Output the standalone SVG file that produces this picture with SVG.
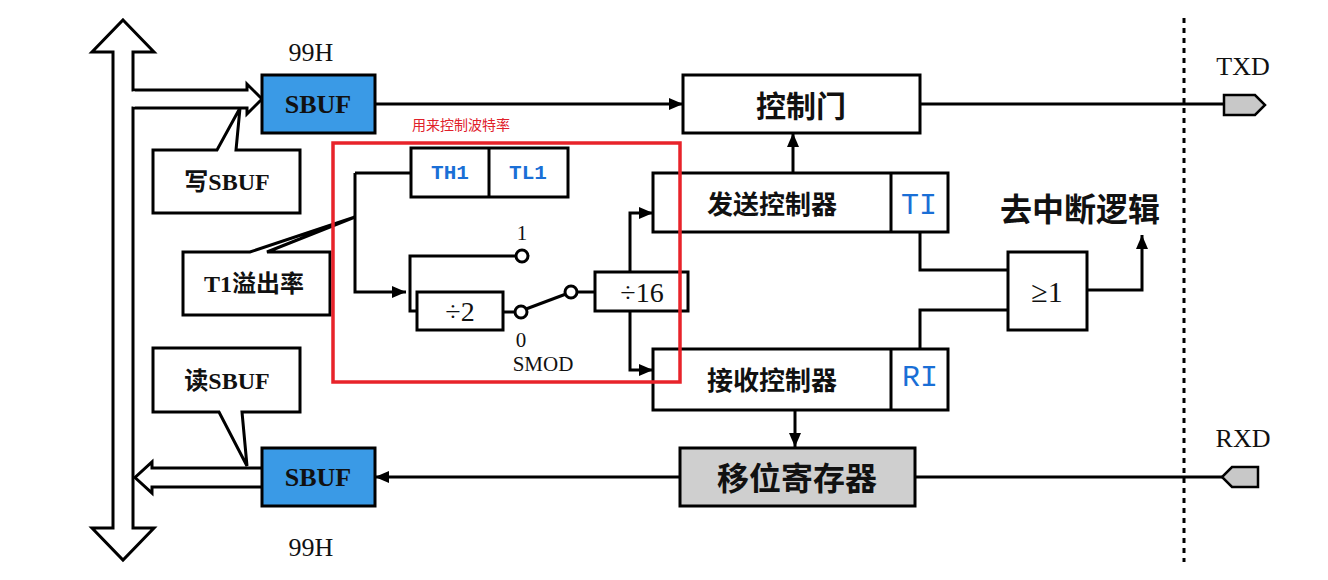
<svg xmlns="http://www.w3.org/2000/svg" width="1328" height="580" viewBox="0 0 1328 580">
<defs>
<marker id="ah" viewBox="0 0 14 12" refX="14" refY="6" markerWidth="14" markerHeight="12" markerUnits="userSpaceOnUse" orient="auto">
<path d="M0,0 L14,6 L0,12 Z" fill="#000"/>
</marker>
<style>
.ln{fill:none;stroke:#000;stroke-width:3}
.bx{fill:#fff;stroke:#000;stroke-width:3}
.sb{fill:#3a9ae6;stroke:#000;stroke-width:3}
.gy{fill:#cfcfcf;stroke:#000;stroke-width:3}
.pin{fill:#c8c8c8;stroke:#000;stroke-width:2.5}
.cj{font-family:"Noto Sans CJK SC","Liberation Sans",sans-serif;font-weight:700;fill:#111;text-anchor:middle;dominant-baseline:central}
.sf{font-family:"Liberation Serif","Noto Sans CJK SC",serif;fill:#111;text-anchor:middle;dominant-baseline:central}
.bl{font-family:"Liberation Mono","DejaVu Sans Mono",monospace;fill:#1a6fd6;text-anchor:middle;dominant-baseline:central}
</style>
</defs>
<rect width="1328" height="580" fill="#fff"/>

<g id="bus">
<polygon class="bx" points="123,20 154,52 133,52 133,528 154,528 123,560 92,528 113,528 113,52 92,52"/>
</g>

<g id="connectors">
<path class="ln" d="M375,104 H683" marker-end="url(#ah)"/>
<path class="ln" d="M920,104 H1224"/>
<path class="ln" d="M793,173 V133" marker-end="url(#ah)"/>
<path class="ln" d="M355,173 H411"/>
<path class="ln" d="M355,173 V292 H406" marker-end="url(#ah)"/>
<path class="ln" d="M516,256 H410 V311 H417"/>
<path class="ln" d="M503,312 H515"/>
<path class="ln" d="M526,309 L566,294"/>
<path class="ln" d="M577,292 H595"/>
<path class="ln" d="M630,272 V213 H653" marker-end="url(#ah)"/>
<path class="ln" d="M630,311 V370 H653" marker-end="url(#ah)"/>
<path class="ln" d="M920,232 V270 H1008"/>
<path class="ln" d="M920,349 V310 H1008"/>
<path class="ln" d="M1087,290 H1142 V235" marker-end="url(#ah)"/>
<path class="ln" d="M795,410 V447" marker-end="url(#ah)"/>
<path class="ln" d="M1222,477 H915"/>
<path class="ln" d="M680,477 H375" marker-end="url(#ah)"/>
<path d="M1184,18 V562" fill="none" stroke="#000" stroke-width="3" stroke-dasharray="5,5"/>
</g>

<g id="write-arrow">
<path d="M133,90 H247 V84 L262,99 L247,114 V108 H133" fill="#fff" stroke="#000" stroke-width="3"/>
<rect x="131" y="91.5" width="4" height="15" fill="#fff"/>
</g>
<g id="read-arrow">
<path d="M262,468 H152 V462 L135,477.5 L152,493 V487 H262" fill="#fff" stroke="#000" stroke-width="3"/>
</g>

<g id="sbuf-top">
<rect class="sb" x="262" y="75" width="113" height="58"/>
<text class="sf" x="318" y="104" font-size="26" font-weight="700" fill="#0d2a4a">SBUF</text>
<text class="sf" x="311" y="52" font-size="26">99H</text>
</g>
<g id="sbuf-bottom">
<rect class="sb" x="262" y="448" width="113" height="58"/>
<text class="sf" x="318" y="477" font-size="26" font-weight="700" fill="#0d2a4a">SBUF</text>
<text class="sf" x="311" y="547" font-size="26">99H</text>
</g>

<g id="write-callout">
<path class="bx" d="M153,150 H217 L240,108 L236,150 H300 V213 H153 Z"/>
<text class="sf" x="227" y="182" font-size="24" font-weight="700">写SBUF</text>
</g>
<g id="read-callout">
<path class="bx" d="M153,348 H300 V412 H242 L247,466 L219,412 H153 Z"/>
<text class="sf" x="227" y="381" font-size="24" font-weight="700">读SBUF</text>
</g>
<g id="t1-callout">
<path class="bx" d="M183,252 H250 L355,217 L267,252 H330 V315 H183 Z"/>
<text class="sf" x="254" y="284" font-size="24" font-weight="700">T1溢出率</text>
</g>

<g id="th1-tl1">
<rect class="bx" x="411" y="148" width="157" height="49"/>
<line class="ln" x1="489" y1="148" x2="489" y2="197"/>
<text class="bl" x="450" y="173" font-size="21" font-weight="700">TH1</text>
<text class="bl" x="528" y="173" font-size="21" font-weight="700">TL1</text>
</g>

<g id="div2">
<rect class="bx" x="417" y="292" width="86" height="38"/>
<text class="sf" x="460" y="311" font-size="28">÷2</text>
</g>

<g id="switch">
<circle cx="522" cy="256" r="6" fill="#fff" stroke="#000" stroke-width="3"/>
<circle cx="521" cy="312" r="6" fill="#fff" stroke="#000" stroke-width="3"/>
<circle cx="571" cy="292" r="6" fill="#fff" stroke="#000" stroke-width="3"/>
<text class="sf" x="522" y="233" font-size="21">1</text>
<text class="sf" x="521" y="340" font-size="21">0</text>
<text class="sf" x="543" y="364" font-size="21">SMOD</text>
</g>

<g id="div16">
<rect class="bx" x="595" y="272" width="93" height="39"/>
<text class="sf" x="642" y="292" font-size="28">÷16</text>
</g>

<g id="ctrl-gate">
<rect class="bx" x="683" y="75" width="237" height="58"/>
<text class="cj" x="801" y="104" font-size="30">控制门</text>
</g>

<g id="tx-ctrl">
<rect class="bx" x="653" y="173" width="295" height="59"/>
<line class="ln" x1="891" y1="173" x2="891" y2="232"/>
<text class="cj" x="772" y="202" font-size="26">发送控制器</text>
<text class="bl" x="919" y="206" font-size="30">TI</text>
</g>

<g id="rx-ctrl">
<rect class="bx" x="653" y="349" width="295" height="61"/>
<line class="ln" x1="891" y1="349" x2="891" y2="410"/>
<text class="cj" x="772" y="378" font-size="26">接收控制器</text>
<text class="bl" x="920" y="378" font-size="30">RI</text>
</g>

<g id="or-gate">
<rect class="bx" x="1008" y="252" width="79" height="78"/>
<text class="sf" x="1047" y="291" font-size="30">≥1</text>
<text class="cj" x="1080" y="207" font-size="32">去中断逻辑</text>
</g>

<g id="shift-reg">
<rect class="gy" x="680" y="448" width="235" height="58"/>
<text class="cj" x="797" y="476" font-size="32">移位寄存器</text>
</g>

<g id="txd">
<polygon class="pin" points="1224,95 1255,95 1265,105 1255,115 1224,115"/>
<text class="sf" x="1243" y="66" font-size="26">TXD</text>
</g>
<g id="rxd">
<polygon class="pin" points="1258,467 1232,467 1222,477 1232,487 1258,487"/>
<text class="sf" x="1243" y="438" font-size="26">RXD</text>
</g>

<g id="baud-note">
<rect x="333" y="143" width="347" height="239" fill="none" stroke="#e8232a" stroke-width="3.5"/>
<text x="412" y="124" font-family="Noto Sans CJK SC,sans-serif" font-size="14" fill="#e0202a" dominant-baseline="central">用来控制波特率</text>
</g>
</svg>
